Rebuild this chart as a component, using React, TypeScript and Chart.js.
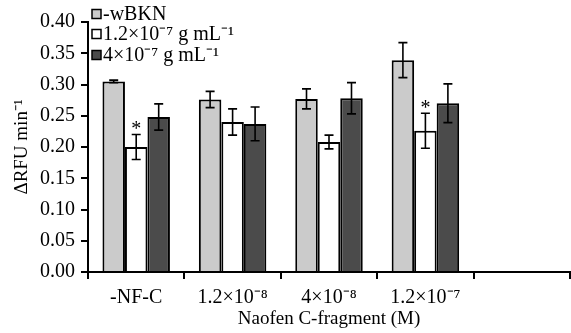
import React, { useEffect, useRef } from "react";
import { Chart, registerables } from "chart.js";

Chart.register(...registerables);

const categories = ["-NF-C", "1.2×10⁻⁸", "4×10⁻⁸", "1.2×10⁻⁷", ""];
const seriesLabels = ["-wBKN", "1.2×10⁻⁷ g mL⁻¹", "4×10⁻⁷ g mL⁻¹"];
const wBKN = [0.305, 0.276, 0.277, 0.339, null];
const low = [0.2, 0.24, 0.208, 0.226, null];
const high = [0.248, 0.237, 0.278, 0.27, null];
const wBKNErr = [0.002, 0.013, 0.016, 0.028, null];
const lowErr = [0.02, 0.021, 0.011, 0.028, null];
const highErr = [0.021, 0.027, 0.025, 0.031, null];
const starred = [true, false, false, true, false]; // significance on 2nd series
const yTicks = [0, 0.05, 0.1, 0.15, 0.2, 0.25, 0.3, 0.35, 0.4];

const FONT = "'Liberation Serif', 'Times New Roman', serif";
const colors = ["#cbcbcb", "#ffffff", "#4b4b4b"];
const errs = [wBKNErr, lowErr, highErr];

const errorBarPlugin = {
  id: "errorBars",
  afterDatasetsDraw(chart: any) {
    const ctx = chart.ctx;
    const y = chart.scales.y;
    ctx.save();
    ctx.strokeStyle = "#000";
    ctx.lineWidth = 1.6;
    chart.data.datasets.forEach((ds: any, di: number) => {
      const meta = chart.getDatasetMeta(di);
      meta.data.forEach((bar: any, i: number) => {
        const v = ds.data[i];
        const e = errs[di][i];
        if (v == null || e == null) return;
        const x = bar.x;
        const yt = y.getPixelForValue(v + e);
        const yb = y.getPixelForValue(v - e);
        ctx.beginPath();
        ctx.moveTo(x, yt);
        ctx.lineTo(x, yb);
        ctx.moveTo(x - 4.5, yt);
        ctx.lineTo(x + 4.5, yt);
        ctx.moveTo(x - 4.5, yb);
        ctx.lineTo(x + 4.5, yb);
        ctx.stroke();
        if (di === 1 && starred[i]) {
          ctx.fillStyle = "#000";
          ctx.font = `20px ${FONT}`;
          ctx.textAlign = "center";
          ctx.textBaseline = "middle";
          ctx.fillText("*", x, yt - 5);
        }
      });
    });
    ctx.restore();
  },
};

const legendPlugin = {
  id: "innerLegend",
  afterDraw(chart: any) {
    const ctx = chart.ctx;
    const left = chart.chartArea.left + 4;
    const rows = [14, 34, 55];
    ctx.save();
    ctx.font = `20px ${FONT}`;
    ctx.textBaseline = "middle";
    ctx.textAlign = "left";
    seriesLabels.forEach((lab, i) => {
      const cy = rows[i];
      ctx.fillStyle = colors[i];
      ctx.fillRect(left, cy - 4.5, 9, 9);
      ctx.strokeStyle = "#000";
      ctx.lineWidth = 1.5;
      ctx.strokeRect(left, cy - 4.5, 9, 9);
      ctx.fillStyle = "#000";
      ctx.fillText(lab, left + 11, cy + 1);
    });
    ctx.restore();
  },
};

export default function App() {
  const ref = useRef<HTMLCanvasElement>(null);
  useEffect(() => {
    const datasets = [wBKN, low, high].map((d, i) => ({
      label: seriesLabels[i],
      data: d,
      backgroundColor: colors[i],
      borderColor: "#000",
      borderWidth: 2,
      categoryPercentage: 0.7,
      barPercentage: 1.0,
    }));
    const chart = new Chart(ref.current!, {
      type: "bar",
      data: { labels: categories, datasets },
      plugins: [errorBarPlugin, legendPlugin],
      options: {
        animation: false,
        responsive: true,
        maintainAspectRatio: false,
        layout: { padding: { top: 22, right: 1, left: 0, bottom: 0 } },
        plugins: { legend: { display: false }, tooltip: { enabled: false } },
        scales: {
          x: {
            offset: true,
            grid: {
              offset: true,
              drawOnChartArea: false,
              drawTicks: true,
              tickLength: 7,
              color: "#000",
              lineWidth: 2,
            },
            border: { color: "#000", width: 2 },
            ticks: { color: "#000", font: { family: FONT, size: 20 }, padding: 7, maxRotation: 0 },
            title: {
              display: true,
              text: "Naofen C-fragment (M)",
              color: "#000",
              font: { family: FONT, size: 19 },
              padding: { top: 0, bottom: 3 },
            },
            afterFit: (s: any) => {
              s.height = 61;
            },
          },
          y: {
            min: 0,
            max: 0.4,
            afterBuildTicks: (s: any) => {
              s.ticks = yTicks.map((v) => ({ value: v }));
            },
            grid: {
              drawOnChartArea: false,
              drawTicks: true,
              tickLength: 7,
              color: "#000",
              lineWidth: 2,
            },
            border: { color: "#000", width: 2 },
            ticks: {
              color: "#000",
              font: { family: FONT, size: 20 },
              padding: 6,
              callback: (v: any) => Number(v).toFixed(2),
            },
            title: {
              display: true,
              text: "ΔRFU min⁻¹",
              color: "#000",
              font: { family: FONT, size: 19 },
              padding: { top: 11, bottom: 0 },
            },
            afterFit: (s: any) => {
              s.width = 88;
            },
          },
        },
      },
    });
    return () => chart.destroy();
  }, []);
  return (
    <div style={{ position: "absolute", left: 0, top: 0, width: 571, height: 333, background: "#fff" }}>
      <canvas ref={ref} />
    </div>
  );
}
